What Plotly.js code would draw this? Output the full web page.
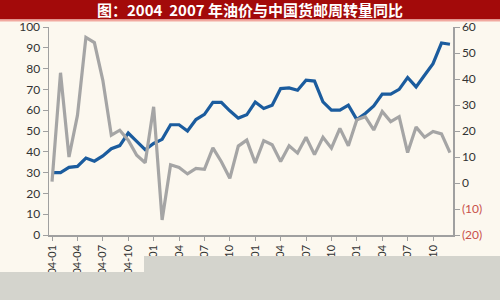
<!DOCTYPE html>
<html>
<head>
<meta charset="utf-8">
<script src="https://cdn.plot.ly/plotly-3.0.1.min.js"></script>
<style>
html,body{margin:0;padding:0;background:#fcf8ef;}
#chart{width:500px;height:300px;}
</style>
</head>
<body>
<div id="chart"></div>
<script>
var months = [
  "2004-01","2004-02","2004-03","2004-04","2004-05","2004-06","2004-07","2004-08","2004-09","2004-10","2004-11","2004-12",
  "2005-01","2005-02","2005-03","2005-04","2005-05","2005-06","2005-07","2005-08","2005-09","2005-10","2005-11","2005-12",
  "2006-01","2006-02","2006-03","2006-04","2006-05","2006-06","2006-07","2006-08","2006-09","2006-10","2006-11","2006-12",
  "2007-01","2007-02","2007-03","2007-04","2007-05","2007-06","2007-07","2007-08","2007-09","2007-10","2007-11","2007-12"
];

// Oil price (left axis)
var oilPrice = [
  30, 30, 32.5, 33, 37, 35.5, 38, 41.5, 43, 49, 45, 41,
  44, 46, 53, 53, 50, 55.5, 58, 63.8, 63.8, 59.7, 56.2, 57.8,
  63.9, 60.8, 62.4, 70.4, 70.7, 69.6, 74.4, 74, 64, 60, 60, 62.4,
  55.5, 58.4, 62, 67.7, 67.7, 70, 75.7, 71.2, 76.8, 82.4, 92.3, 91.7
];

// China freight & mail turnover YoY (right axis)
var freightYoY = [
  0.5, 42.4, 10, 26, 56, 54, 39.5, 18.4, 20.3, 16.5, 10.7, 7.8,
  29.3, -14.2, 7, 6, 3.5, 5.6, 5.3, 13.5, 8.2, 1.8, 14.2, 16.5,
  7.7, 16.3, 14.7, 8.3, 14.3, 11.5, 17.6, 10.9, 17.6, 13.4, 21, 14.3,
  24.3, 25.5, 20.4, 27.5, 23.6, 25.5, 11.7, 21.5, 17.6, 19.8, 18.9, 11.7
];

var xTickVals = ["2004-01","2004-04","2004-07","2004-10","2005-01","2005-04","2005-07","2005-10",
                 "2006-01","2006-04","2006-07","2006-10","2007-01","2007-04","2007-07","2007-10"];
var leftTicks = [0,10,20,30,40,50,60,70,80,90,100];
var rightTicks = [-20,-10,0,10,20,30,40,50,60];
var rightTickText = ['<span style="color:#c8504a">(20)</span>','<span style="color:#c8504a">(10)</span>',
                     '0','10','20','30','40','50','60'];
var titleText = "图：2004&nbsp;&nbsp;2007 年油价与中国货邮周转量同比";

var W = 500, H = 300, ML = 49, MR = 47, MT = 27, MB = 65;
var PW = W - ML - MR, PH = H - MT - MB;
function px(x){ return (x - ML) / PW; }
function py(y){ return (H - MB - y) / PH; }

var traces = [
  {x: months, y: freightYoY, type: 'scatter', mode: 'lines', yaxis: 'y2',
   line: {color: '#a5a5a5', width: 3.2}, name: '货邮周转量同比'},
  {x: months, y: oilPrice, type: 'scatter', mode: 'lines', yaxis: 'y',
   line: {color: '#1b5c9e', width: 3.2}, name: '油价'}
];

var axisFont = {family: 'Lato, "Open Sans", sans-serif', size: 12, color: '#333333'};

var layout = {
  width: W, height: H,
  margin: {l: ML, r: MR, t: MT, b: MB, pad: 0},
  paper_bgcolor: '#fcf8ef',
  plot_bgcolor: '#fcf8ef',
  showlegend: false,
  title: {text: titleText, x: 0.5, xref: 'container', xanchor: 'center',
          y: 1 - 10.5/300, yref: 'container', yanchor: 'middle',
          font: {family: '"Noto Sans CJK SC", sans-serif', size: 15, color: '#ffffff', weight: 'bold'}},
  xaxis: {
    type: 'category', range: [-0.36, 47.36],
    tickmode: 'array', tickvals: xTickVals, ticktext: xTickVals,
    tickangle: -90, tickfont: {family: 'Lato, "Open Sans", sans-serif', size: 11, color: '#333333'},
    showline: true, linecolor: '#a0a0a0', linewidth: 1.5,
    ticks: 'outside', ticklen: 4, tickcolor: '#a0a0a0',
    showgrid: false, zeroline: false
  },
  yaxis: {
    range: [0, 100], tickmode: 'array', tickvals: leftTicks,
    tickfont: axisFont, showline: true, linecolor: '#a0a0a0', linewidth: 1.5,
    ticks: 'outside', ticklen: 5, tickcolor: '#a0a0a0',
    showgrid: false, zeroline: false
  },
  yaxis2: {
    overlaying: 'y', side: 'right',
    range: [-20, 60], tickmode: 'array', tickvals: rightTicks, ticktext: rightTickText,
    tickfont: axisFont, showline: true, linecolor: '#a0a0a0', linewidth: 1.5,
    ticks: 'outside', ticklen: 5, tickcolor: '#a0a0a0',
    showgrid: false, zeroline: false
  },
  shapes: [
    {type: 'rect', xref: 'paper', yref: 'paper', layer: 'below',
     x0: px(0), x1: px(500), y0: py(19.5), y1: py(0),
     fillcolor: '#a30a0a', line: {width: 0}},
    {type: 'rect', xref: 'paper', yref: 'paper', layer: 'below',
     x0: px(0), x1: px(500), y0: py(21.5), y1: py(19.5),
     fillcolor: '#f1a9a0', line: {width: 0}},
    {type: 'rect', xref: 'paper', yref: 'paper', layer: 'above',
     x0: px(0), x1: px(144), y0: py(300), y1: py(272),
     fillcolor: '#d4d4cd', line: {width: 0}},
    {type: 'rect', xref: 'paper', yref: 'paper', layer: 'above',
     x0: px(144), x1: px(500), y0: py(300), y1: py(256),
     fillcolor: '#d4d4cd', line: {width: 0}}
  ]
};

Plotly.newPlot('chart', traces, layout, {displayModeBar: false, staticPlot: true});
</script>
</body>
</html>
